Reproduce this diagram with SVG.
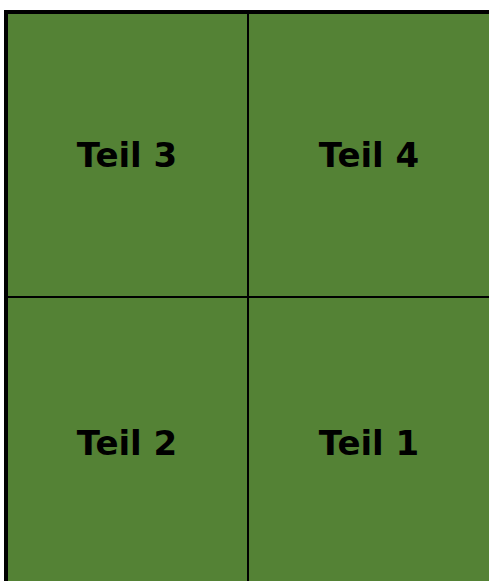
<svg xmlns="http://www.w3.org/2000/svg" width="489" height="581" viewBox="0 0 489 581">
<style>
.cell{fill:#548235;stroke:#000;stroke-width:2}
.lbl{font-family:"DejaVu Sans",sans-serif;font-weight:bold;font-size:34px;fill:#000;text-anchor:middle}
</style>
<rect x="0" y="0" width="489" height="581" fill="#fff"/>
<g id="teil3"><rect class="cell" x="6" y="12" width="242" height="285"/><text class="lbl" x="127" y="167">Teil 3</text></g>
<g id="teil4"><rect class="cell" x="248" y="12" width="248" height="285"/><text class="lbl" x="369" y="167">Teil 4</text></g>
<g id="teil2"><rect class="cell" x="6" y="297" width="242" height="290"/><text class="lbl" x="127" y="455">Teil 2</text></g>
<g id="teil1"><rect class="cell" x="248" y="297" width="248" height="290"/><text class="lbl" x="369" y="455">Teil 1</text></g>
<rect x="6" y="12" width="494" height="580" fill="none" stroke="#000" stroke-width="4"/>
</svg>
